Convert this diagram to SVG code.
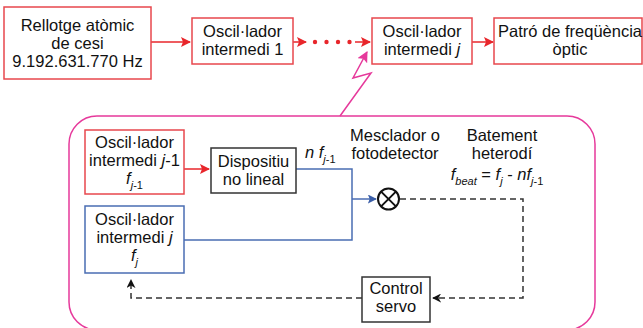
<svg xmlns="http://www.w3.org/2000/svg" width="643" height="328" viewBox="0 0 643 328">
<style>
text{font-family:"Liberation Sans",Arial,sans-serif;font-size:16.5px;fill:#111;}
.c{text-anchor:middle;}
.i{font-style:italic;}
.s{font-size:11px;}
.rb{fill:#fff;stroke:#e8474d;stroke-width:1.5;}
.bb{fill:#fff;stroke:#4a6db3;stroke-width:1.5;}
.kb{fill:#fff;stroke:#333;stroke-width:1.5;}
.rl{fill:none;stroke:#e8262b;stroke-width:1.5;}
.bl{fill:none;stroke:#4a6db3;stroke-width:1.5;}
.dl{fill:none;stroke:#333;stroke-width:1.5;stroke-dasharray:6 4;}
.pk{fill:none;stroke:#e6399b;stroke-width:1.5;}
</style>
<defs>
<marker id="ar" viewBox="0 0 10 10" refX="9" refY="5" markerWidth="10" markerHeight="10" markerUnits="userSpaceOnUse" orient="auto"><path d="M0,0 L10,5 L0,10 L2,5 z" fill="#e8262b"/></marker>
<marker id="ab" viewBox="0 0 10 10" refX="9" refY="5" markerWidth="9" markerHeight="9" markerUnits="userSpaceOnUse" orient="auto"><path d="M0,0 L10,5 L0,10 L2,5 z" fill="#3a5ea8"/></marker>
<marker id="ak" viewBox="0 0 10 10" refX="9" refY="5" markerWidth="9" markerHeight="9" markerUnits="userSpaceOnUse" orient="auto"><path d="M0,0 L10,5 L0,10 L3,5 z" fill="#111"/></marker>
<marker id="ap" viewBox="0 0 10 10" refX="9" refY="5" markerWidth="11" markerHeight="11" markerUnits="userSpaceOnUse" orient="auto"><path d="M0,0 L10,5 L0,10 L2,5 z" fill="#e6399b"/></marker>
</defs>

<rect x="69" y="116" width="526" height="214" rx="28" class="pk"/>

<g id="connectors">
<line x1="151" y1="42" x2="190" y2="42" class="rl" marker-end="url(#ar)"/>
<line x1="293" y1="42" x2="306" y2="42" class="rl" marker-end="url(#ar)"/>
<g fill="#e8262b"><circle cx="315" cy="42" r="2.2"/><circle cx="326.5" cy="42" r="2.2"/><circle cx="338" cy="42" r="2.2"/><circle cx="349.5" cy="42" r="2.2"/></g>
<line x1="355" y1="42" x2="370" y2="42" class="rl" marker-end="url(#ar)"/>
<line x1="472" y1="42" x2="493" y2="42" class="rl" marker-end="url(#ar)"/>
<polyline points="340,116 371,73 353,78 367,52" class="pk" marker-end="url(#ap)"/>
<line x1="184" y1="169" x2="209" y2="169" class="rl" marker-end="url(#ar)"/>
<polyline points="296,169 352,169 352,199" class="bl"/>
<polyline points="184,240 352,240 352,199" class="bl"/>
<line x1="352" y1="199" x2="376" y2="199" class="bl" marker-end="url(#ab)"/>
<polyline points="400,199 523,199 523,298 433,298" class="dl" marker-end="url(#ak)"/>
<polyline points="362,298 131,298 131,280" class="dl" marker-end="url(#ak)"/>
</g>

<g id="cesi">
<rect x="4" y="7" width="147" height="72" class="rb"/>
<text x="77.5" y="31" class="c">Rellotge atòmic</text>
<text x="77.5" y="49" class="c">de cesi</text>
<text x="77.5" y="67" class="c">9.192.631.770 Hz</text>
</g>
<g id="osc1">
<rect x="192" y="18" width="101" height="46" class="rb"/>
<text x="242.5" y="37" class="c">Oscil·lador</text>
<text x="242.5" y="55" class="c">intermedi 1</text>
</g>
<g id="oscj">
<rect x="372" y="18" width="100" height="46" class="rb"/>
<text x="422" y="37" class="c">Oscil·lador</text>
<text x="422" y="55" class="c">intermedi <tspan class="i">j</tspan></text>
</g>
<g id="patro">
<rect x="494" y="18" width="148" height="46" class="rb"/>
<text x="570" y="37" class="c">Patró de freqüència</text>
<text x="570" y="55" class="c">òptic</text>
</g>

<g id="oscjm1">
<rect x="85" y="130" width="99" height="64" class="rb"/>
<text x="134.5" y="148" class="c">Oscil·lador</text>
<text x="134.5" y="166" class="c">intermedi <tspan class="i">j</tspan>-1</text>
<text x="134.5" y="184" class="c"><tspan class="i">f</tspan><tspan class="s i" dy="5">j</tspan><tspan class="s">-1</tspan></text>
</g>
<g id="nolineal">
<rect x="211" y="148" width="85" height="45" class="kb"/>
<text x="253.5" y="167" class="c">Dispositiu</text>
<text x="253.5" y="185" class="c">no lineal</text>
</g>
<g id="oscjb">
<rect x="85" y="206" width="99" height="67" class="bb"/>
<text x="134.5" y="225" class="c">Oscil·lador</text>
<text x="134.5" y="243" class="c">intermedi <tspan class="i">j</tspan></text>
<text x="134.5" y="261" class="c"><tspan class="i">f</tspan><tspan class="s i" dy="5">j</tspan></text>
</g>
<g id="mixer">
<circle cx="388.5" cy="199" r="10.5" fill="#fff" stroke="#111" stroke-width="2"/>
<path d="M381.1,191.6 L395.9,206.4 M395.9,191.6 L381.1,206.4" stroke="#111" stroke-width="2"/>
<text x="395" y="141" class="c">Mesclador o</text>
<text x="395" y="159" class="c">fotodetector</text>
</g>
<g id="servo">
<rect x="362" y="277" width="68" height="45" class="kb"/>
<text x="396" y="294" class="c">Control</text>
<text x="396" y="312" class="c">servo</text>
</g>

<text x="305" y="158"><tspan class="i">n f</tspan><tspan class="s i" dy="5">j</tspan><tspan class="s">-1</tspan></text>
<g id="beat">
<text x="502" y="141" class="c">Batement</text>
<text x="502" y="159" class="c">heterodí</text>
<text x="497" y="180" class="c"><tspan class="i">f</tspan><tspan class="s i" dy="5">beat</tspan><tspan dy="-5"> = </tspan><tspan class="i">f</tspan><tspan class="s i" dy="5">j</tspan><tspan dy="-5"> - </tspan><tspan class="i">nf</tspan><tspan class="s i" dy="5">j</tspan><tspan class="s">-1</tspan></text>
</g>
</svg>
